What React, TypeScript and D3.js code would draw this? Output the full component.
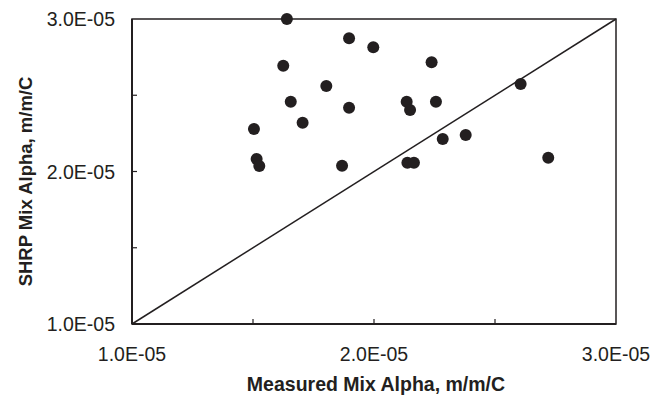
import React from "react";
import * as d3 from "d3";

const measured: number[] = [16.4, 16.25, 18.97, 19.97, 22.38, 26.06, 18.03, 16.56, 18.97, 21.35, 21.49, 22.56, 15.04, 17.05, 15.15, 15.26, 18.68, 22.84, 23.79, 21.38, 21.65, 27.2].map(v => v * 1e-6);
const shrp: number[] = [30.0, 26.94, 28.73, 28.14, 27.16, 25.74, 25.61, 24.58, 24.18, 24.58, 24.03, 24.58, 22.79, 23.2, 20.82, 20.36, 20.38, 22.13, 22.39, 20.58, 20.58, 20.9].map(v => v * 1e-6);
const majorTicks: number[] = [1e-5, 2e-5, 3e-5];
const minorTicks: number[] = [1.5e-5, 2.5e-5];
const tickLabels: string[] = ["1.0E-05", "2.0E-05", "3.0E-05"];
const xTitle = "Measured Mix Alpha, m/m/C";
const yTitle = "SHRP Mix Alpha, m/m/C";

const W = 653, H = 395;
const L = 132, R = 616, T = 19, B = 324;
const INK = "#231f20";
const FONT = "'Liberation Sans', Arial, Helvetica, sans-serif";

export default function App() {
  const x = d3.scaleLinear().domain([1e-5, 3e-5]).range([L, R]);
  const y = d3.scaleLinear().domain([1e-5, 3e-5]).range([B, T]);
  const allTicks = [...majorTicks, ...minorTicks];
  const line = d3.line<number>().x(d => x(d)).y(d => y(d));
  return (
    <svg width={W} height={H} style={{ position: "absolute", left: 0, top: 0, background: "#fff" }} fontFamily={FONT}>
      <path d={line([1e-5, 3e-5]) || ""} stroke={INK} strokeWidth={1.5} fill="none" />
      <rect x={L} y={T} width={R - L} height={B - T} fill="none" stroke={INK} strokeWidth={1.5} />
      <line x1={L} x2={L} y1={T} y2={B} stroke={INK} strokeWidth={2} />
      <line x1={L} x2={R} y1={B} y2={B} stroke={INK} strokeWidth={2} />
      {allTicks.filter(t => t > 1e-5 && t < 3e-5).map((t, i) => (
        <g key={"t" + i}>
          <line x1={x(t)} x2={x(t)} y1={B} y2={B - 5} stroke={INK} strokeWidth={1.2} />
          <line x1={L} x2={L + 5} y1={y(t)} y2={y(t)} stroke={INK} strokeWidth={1.2} />
        </g>
      ))}
      {majorTicks.map((t, i) => (
        <g key={"l" + i} fill={INK} fontSize={19.5}>
          <text x={x(t)} y={361} textAnchor="middle">{tickLabels[i]}</text>
          <text x={115} y={y(t) + 7} textAnchor="end">{tickLabels[i]}</text>
        </g>
      ))}
      <text x={(L + R) / 2 + 2} y={391} textAnchor="middle" fontWeight="bold" fontSize={19.5} fill={INK}>{xTitle}</text>
      <text transform={`translate(32,${(T + B) / 2 + 10}) rotate(-90)`} textAnchor="middle" fontWeight="bold" fontSize={18.5} fill={INK}>{yTitle}</text>
      {measured.map((m, i) => (
        <circle key={"p" + i} cx={x(m)} cy={y(shrp[i])} r={6} fill={INK} />
      ))}
    </svg>
  );
}
